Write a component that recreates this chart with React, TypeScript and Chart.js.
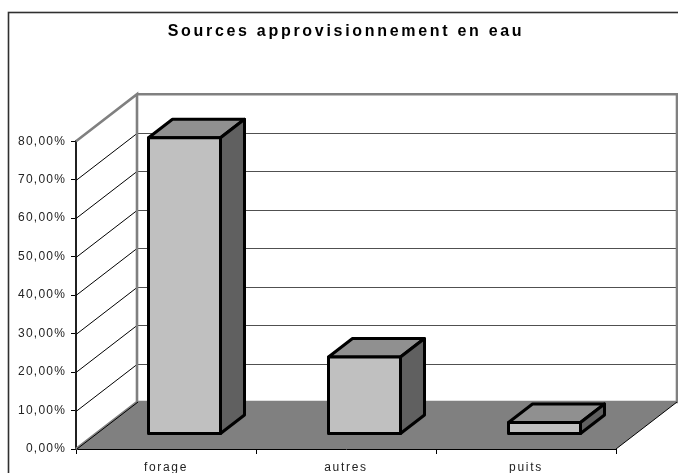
import React, { useEffect, useRef } from "react";
import { Chart, registerables } from "chart.js";

Chart.register(...registerables);

const categories = ["forage", "autres", "puits"];
const values = [77, 20, 3];
const titleText = "Sources approvisionnement en eau";
const yMax = 80;
const yStep = 10;

const WALL = { dx: 61, dy: -47 };
const BAR_FRONT = { dx: 18.5, dy: -15 };
const BAR_DEPTH = { dx: 24, dy: -18.5 };
const BAR_STROKE = 3;

function withSpacing(target: any, method: string, ctx: any, spacing: string) {
  const key = "__spaced_" + method;
  if (!target || target[key]) return;
  const original = target[method].bind(target);
  target[key] = true;
  target[method] = (...args: any[]) => {
    const prev = ctx.letterSpacing;
    ctx.letterSpacing = spacing;
    original(...args);
    ctx.letterSpacing = prev;
  };
}

const barRect = (el: any) => {
  const p = el.getProps(["x", "y", "base", "width"], true);
  return {
    x0: p.x - p.width / 2 + BAR_FRONT.dx,
    x1: p.x + p.width / 2 + BAR_FRONT.dx,
    yT: p.y + BAR_FRONT.dy,
    yB: p.base + BAR_FRONT.dy,
  };
};

const scene = {
  id: "scene3d",
  beforeDraw(chart: any) {
    const ctx = chart.ctx;
    withSpacing(chart.titleBlock, "draw", ctx, "2.7px");
    withSpacing(chart.scales.x, "drawLabels", ctx, "1.7px");
    ctx.letterSpacing = "1.2px";
    ctx.save();
    ctx.fillStyle = "#fff";
    ctx.fillRect(0, 0, chart.width, chart.height);
    ctx.strokeStyle = "#303030";
    ctx.lineWidth = 1.6;
    ctx.strokeRect(8.5, 12.5, chart.width + 20, chart.height + 20);
    ctx.restore();
  },
  beforeDatasetsDraw(chart: any) {
    const ctx = chart.ctx;
    const { left, right, top, bottom } = chart.chartArea;
    const y = chart.scales.y;
    ctx.save();
    // floor
    ctx.fillStyle = "#808080";
    ctx.beginPath();
    ctx.moveTo(left, bottom);
    ctx.lineTo(left + WALL.dx, bottom + WALL.dy);
    ctx.lineTo(right + WALL.dx, bottom + WALL.dy);
    ctx.lineTo(right, bottom);
    ctx.closePath();
    ctx.fill();
    // grid on both walls
    y.ticks.forEach((t: any) => {
      const py = Math.round(y.getPixelForValue(t.value)) + 0.5;
      if (t.value > 0 && t.value < yMax) {
        ctx.lineWidth = 1;
        ctx.strokeStyle = "#000";
        ctx.beginPath();
        ctx.moveTo(left, py);
        ctx.lineTo(left + WALL.dx, py + WALL.dy);
        ctx.stroke();
        ctx.lineWidth = 1.2;
        ctx.strokeStyle = "#505050";
        ctx.beginPath();
        ctx.moveTo(left + WALL.dx, py + WALL.dy);
        ctx.lineTo(right + WALL.dx, py + WALL.dy);
        ctx.stroke();
      }
    });
    // wall outline
    ctx.strokeStyle = "#808080";
    ctx.lineWidth = 2.6;
    ctx.beginPath();
    ctx.moveTo(left, bottom);
    ctx.lineTo(left + WALL.dx, bottom + WALL.dy);
    ctx.lineTo(left + WALL.dx, top + WALL.dy);
    ctx.lineTo(left, top);
    ctx.moveTo(left + WALL.dx, top + WALL.dy);
    ctx.lineTo(right + WALL.dx, top + WALL.dy);
    ctx.lineTo(right + WALL.dx, bottom + WALL.dy);
    ctx.lineTo(left + WALL.dx, bottom + WALL.dy);
    ctx.stroke();
    // front edges
    ctx.strokeStyle = "#000";
    ctx.lineWidth = 1;
    ctx.beginPath();
    ctx.moveTo(left + 1, bottom);
    ctx.lineTo(left + WALL.dx + 1, bottom + WALL.dy);
    ctx.moveTo(right, bottom);
    ctx.lineTo(right + WALL.dx, bottom + WALL.dy);
    ctx.stroke();
    // top and side faces of the bars
    ctx.lineJoin = "round";
    chart.getDatasetMeta(0).data.forEach((el: any) => {
      const { x0, x1, yT, yB } = barRect(el);
      ctx.lineWidth = BAR_STROKE;
      ctx.strokeStyle = "#000";
      ctx.fillStyle = "#909090";
      ctx.beginPath();
      ctx.moveTo(x0, yT);
      ctx.lineTo(x0 + BAR_DEPTH.dx, yT + BAR_DEPTH.dy);
      ctx.lineTo(x1 + BAR_DEPTH.dx, yT + BAR_DEPTH.dy);
      ctx.lineTo(x1, yT);
      ctx.closePath();
      ctx.fill();
      ctx.stroke();
      ctx.fillStyle = "#606060";
      ctx.beginPath();
      ctx.moveTo(x1, yT);
      ctx.lineTo(x1 + BAR_DEPTH.dx, yT + BAR_DEPTH.dy);
      ctx.lineTo(x1 + BAR_DEPTH.dx, yB + BAR_DEPTH.dy);
      ctx.lineTo(x1, yB);
      ctx.closePath();
      ctx.fill();
      ctx.stroke();
    });
    ctx.restore();
  },
  beforeDatasetDraw(chart: any) {
    chart.ctx.save();
    chart.ctx.translate(BAR_FRONT.dx, BAR_FRONT.dy);
  },
  afterDatasetDraw(chart: any) {
    const ctx = chart.ctx;
    ctx.restore();
    ctx.save();
    ctx.lineJoin = "round";
    ctx.lineWidth = BAR_STROKE;
    ctx.strokeStyle = "#000";
    chart.getDatasetMeta(0).data.forEach((el: any) => {
      const { x0, x1, yT, yB } = barRect(el);
      ctx.strokeRect(x0, yT, x1 - x0, yB - yT);
    });
    ctx.restore();
  },
};

export default function App() {
  const ref = useRef<HTMLCanvasElement>(null);
  useEffect(() => {
    document.body.style.margin = "0";
    const chart = new Chart(ref.current as HTMLCanvasElement, {
      type: "bar",
      data: {
        labels: categories,
        datasets: [
          {
            data: values,
            backgroundColor: "#C0C0C0",
            borderWidth: 0,
            barPercentage: 1,
            categoryPercentage: 0.4,
            clip: false,
          } as any,
        ],
      },
      options: {
        responsive: false,
        animation: false,
        layout: { padding: { top: 0, right: 62, bottom: 0, left: 0 } },
        plugins: {
          legend: { display: false },
          tooltip: { enabled: false },
          title: {
            display: true,
            text: titleText,
            fullSize: false,
            color: "#000",
            font: { family: "Liberation Sans", size: 16, weight: "bold" },
            padding: { top: 22, bottom: 100 },
          } as any,
        },
        scales: {
          x: {
            grid: { drawOnChartArea: false, drawTicks: true, tickLength: 5, color: "#000" },
            border: { color: "#000", width: 1 },
            ticks: { color: "#222", padding: 6, maxRotation: 0, font: { family: "Liberation Sans", size: 12 } },
            afterFit(s: any) { s.height = 24; },
          },
          y: {
            min: 0,
            max: yMax,
            grid: { drawOnChartArea: false, drawTicks: true, tickLength: 5, color: "#000" },
            border: { color: "#202020", width: 2 },
            ticks: {
              stepSize: yStep,
              color: "#222",
              padding: 5,
              font: { family: "Liberation Sans", size: 12 },
              callback: (v: any) => Number(v).toFixed(2).replace(".", ",") + "%",
            },
            afterFit(s: any) { s.width = 76; },
          },
        },
      },
      plugins: [scene],
    });
    return () => chart.destroy();
  }, []);
  return <canvas ref={ref} width={678} height={473} style={{ display: "block" }} />;
}
